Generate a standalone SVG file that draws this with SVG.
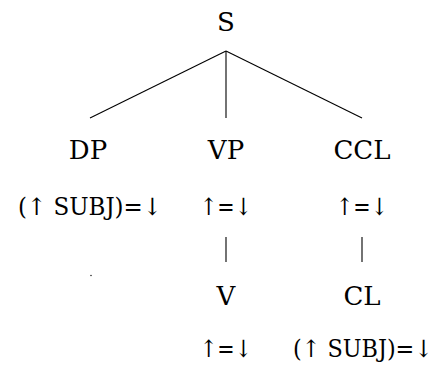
<svg xmlns="http://www.w3.org/2000/svg" width="440" height="368" viewBox="0 0 440 368">
<style>
text { font-family: 'DejaVu Serif', serif; font-size: 26px; fill: #000; text-anchor: middle; }
.eq { font-size: 24px; }
.edge { stroke: #000; stroke-width: 1.1; fill: none; }
</style>
<rect width="440" height="368" fill="#fff"/>
<g id="connectors">
<line class="edge" x1="226" y1="51" x2="90" y2="118"/>
<line class="edge" x1="226" y1="51" x2="226" y2="118"/>
<line class="edge" x1="226" y1="51" x2="362" y2="118"/>
<line class="edge" x1="226" y1="237" x2="226" y2="262"/>
<line class="edge" x1="362" y1="237" x2="362" y2="262"/>
</g>
<g id="node-S"><text x="226" y="31">S</text></g>
<g id="node-DP"><text x="88" y="159">DP</text><text class="eq" x="90" y="215" textLength="144" lengthAdjust="spacingAndGlyphs">(↑ SUBJ)=↓</text></g>
<g id="node-VP"><text x="226" y="159">VP</text><text class="eq" x="226" y="215" textLength="52" lengthAdjust="spacingAndGlyphs">↑=↓</text></g>
<g id="node-CCL"><text x="362" y="159">CCL</text><text class="eq" x="362" y="215" textLength="52" lengthAdjust="spacingAndGlyphs">↑=↓</text></g>
<g id="node-empty"><circle cx="91" cy="275.5" r="0.7" fill="#000"/></g>
<g id="node-V"><text x="226" y="305">V</text><text class="eq" x="226" y="357" textLength="52" lengthAdjust="spacingAndGlyphs">↑=↓</text></g>
<g id="node-CL"><text x="362" y="305">CL</text><text class="eq" x="363" y="357" textLength="140" lengthAdjust="spacingAndGlyphs">(↑ SUBJ)=↓</text></g>
</svg>
